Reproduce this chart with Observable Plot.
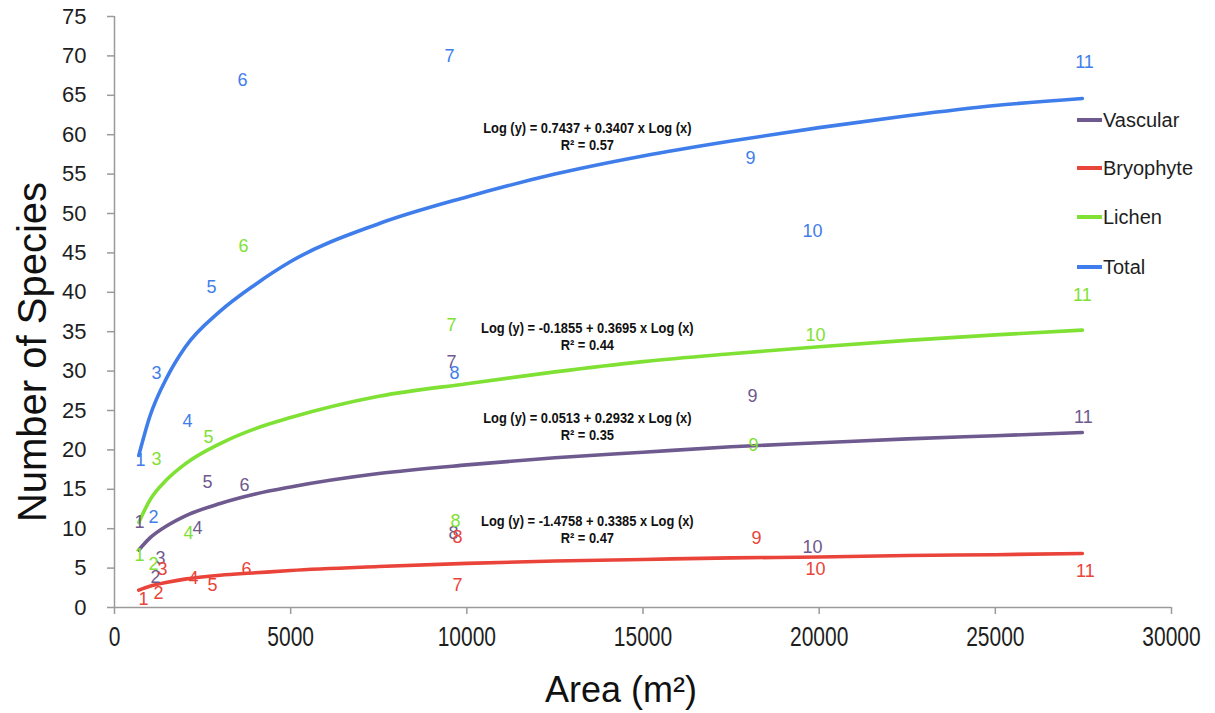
<!DOCTYPE html>
<html><head><meta charset="utf-8">
<script src="https://cdn.jsdelivr.net/npm/d3@7"></script>
<script src="https://cdn.jsdelivr.net/npm/@observablehq/plot@0.6"></script>
<style>
html,body{margin:0;padding:0;background:#fff;}
#wrap{position:relative;width:1215px;height:713px;overflow:hidden;}
.legend{position:absolute;left:1077px;top:0;font-family:"Liberation Sans",Arial,sans-serif;font-size:20px;color:#1e1e1e;}
.item{position:absolute;left:0;display:flex;align-items:center;white-space:nowrap;height:24px;transform:translateY(-50%);}
.sw{width:25px;height:4px;margin-right:1px;}
</style></head><body><div id="wrap"></div>
<script>
// ---- data ----
const series = ["Vascular", "Bryophyte", "Lichen", "Total"];
const colors = ["#6e5a8e", "#ea4339", "#7fe133", "#3f7eea"];
const siteLabels = ["1","2","3","4","5","6","7","8","9","10","11"];

const vascularArea  = [710, 1164, 1305, 2355, 2640, 3690, 9564, 9620, 18106, 19810, 27500];
const vascularCount = [10.8, 3.8, 6.3, 10.0, 15.9, 15.5, 31.1, 9.4, 26.8, 7.6, 24.1];
const bryophyteArea  = [823, 1249, 1362, 2242, 2781, 3746, 9734, 9734, 18220, 19894, 27557];
const bryophyteCount = [1.0, 1.8, 4.9, 3.7, 2.8, 4.9, 2.8, 8.9, 8.8, 4.9, 4.6];
const lichenArea  = [710, 1107, 1192, 2100, 2668, 3661, 9564, 9678, 18135, 19894, 27472];
const lichenCount = [6.6, 5.5, 18.8, 9.4, 21.6, 45.8, 35.8, 11.0, 20.6, 34.6, 39.6];
const totalArea  = [738, 1107, 1192, 2072, 2753, 3633, 9507, 9649, 18050, 19810, 27530];
const totalCount = [18.7, 11.5, 29.7, 23.6, 40.7, 66.9, 69.9, 29.7, 57.0, 47.8, 69.2];

// trend lines
const trendArea      = [690, 1000, 1500, 2000, 3000, 4000, 5000, 7500, 10000, 12500, 15000, 17500, 20000, 22500, 25000, 27470];
const trendVascular  = [7.3, 8.8, 10.4, 11.6, 13.2, 14.4, 15.3, 17.0, 18.1, 19.0, 19.7, 20.4, 20.9, 21.4, 21.8, 22.2];
const trendBryophyte = [2.2, 2.7, 3.2, 3.6, 4.1, 4.4, 4.7, 5.2, 5.6, 5.9, 6.1, 6.3, 6.4, 6.6, 6.7, 6.85];
const trendLichen    = [10.8, 13.6, 16.3, 18.2, 20.8, 22.7, 24.1, 26.8, 28.4, 29.9, 31.2, 32.2, 33.1, 33.9, 34.6, 35.2];
const trendTotal     = [19.3, 24.2, 29.3, 33.0, 37.6, 41.0, 43.9, 48.7, 52.1, 55.0, 57.3, 59.2, 60.9, 62.4, 63.7, 64.6];

const equations = [
  "Log (y) = 0.7437 + 0.3407 x Log (x)\nR² = 0.57",
  "Log (y) = -0.1855 + 0.3695 x Log (x)\nR² = 0.44",
  "Log (y) = 0.0513 + 0.2932 x Log (x)\nR² = 0.35",
  "Log (y) = -1.4758 + 0.3385 x Log (x)\nR² = 0.47"
];
const equationArea  = [13420, 13420, 13420, 13420];
const equationCount = [59.8, 34.5, 23.0, 10.0];

const xTicks = [0, 5000, 10000, 15000, 20000, 25000, 30000];
const yTicks = [0, 5, 10, 15, 20, 25, 30, 35, 40, 45, 50, 55, 60, 65, 70, 75];
const xTitle = "Area (m²)";
const yTitle = "Number of Species";

// ---- build rows ----
const areas = [vascularArea, bryophyteArea, lichenArea, totalArea];
const counts = [vascularCount, bryophyteCount, lichenCount, totalCount];
const trends = [trendVascular, trendBryophyte, trendLichen, trendTotal];
const labelRows = [], trendRows = [];
series.forEach((s, i) => {
  areas[i].forEach((a, j) => labelRows.push({series: s, area: a, count: counts[i][j], site: siteLabels[j]}));
  trendArea.forEach((a, j) => trendRows.push({series: s, area: a, count: trends[i][j]}));
});
const eqRows = equations.map((t, i) => ({text: t, area: equationArea[i], count: equationCount[i]}));

const plot = Plot.plot({
  width: 1215, height: 713,
  marginLeft: 114, marginRight: 44, marginTop: 16, marginBottom: 106,
  style: {background: "#fff", color: "#1e1e1e", fontFamily: "'Liberation Sans', Arial, sans-serif", overflow: "visible"},
  x: {domain: [0, 30000]},
  y: {domain: [0, 75]},
  color: {domain: series, range: colors},
  marks: [
    Plot.ruleY([0], {stroke: "#9a9a9a", strokeWidth: 1.5}),
    Plot.ruleX([0], {stroke: "#9a9a9a", strokeWidth: 1.5}),
    Plot.axisX({ticks: xTicks, tickSize: 7, tickPadding: 12, fontSize: 28, stroke: "#9a9a9a", strokeWidth: 1.5, tickFormat: d => String(d), label: null}),
    Plot.axisY({ticks: yTicks, tickSize: 7, tickPadding: 21, fontSize: 22, stroke: "#9a9a9a", strokeWidth: 1.5, tickFormat: d => String(d), label: null}),
    Plot.line(trendRows, {x: "area", y: "count", z: "series", stroke: "series", strokeWidth: 3.6, curve: "monotone-x"}),
    Plot.text(labelRows, {x: "area", y: "count", text: "site", fill: "series", fontSize: 18}),
    Plot.text(eqRows, {x: "area", y: "count", text: "text", fontSize: 15, fontWeight: "bold", lineHeight: 1.13, fill: "#111"}),
    Plot.text([xTitle], {text: d => d, frameAnchor: "bottom", textAnchor: "middle", lineAnchor: "middle", dx: -22, dy: 83, fontSize: 36, fill: "#111"}),
    Plot.text([yTitle], {text: d => d, frameAnchor: "left", textAnchor: "middle", lineAnchor: "middle", rotate: -90, dx: -81, dy: 40, fontSize: 40, fill: "#111"})
  ]
});

// narrow the condensed-looking texts
plot.querySelectorAll('g[aria-label="x-axis tick label"] text').forEach(t => {
  t.setAttribute("transform", (t.getAttribute("transform") || "") + " scale(0.75,1)");
});
plot.querySelectorAll("text").forEach(t => {
  if (t.textContent.startsWith("Log")) t.setAttribute("transform", (t.getAttribute("transform") || "") + " scale(0.86,1)");
});

const wrap = document.getElementById("wrap");
wrap.appendChild(plot);

// legend
const legendY = [120, 168, 217, 267];
const leg = document.createElement("div");
leg.className = "legend";
series.forEach((s, i) => {
  const it = document.createElement("div");
  it.className = "item";
  it.style.top = legendY[i] + "px";
  it.innerHTML = `<span class="sw" style="background:${colors[i]}"></span><span>${s}</span>`;
  leg.appendChild(it);
});
wrap.appendChild(leg);
</script>
</body></html>
